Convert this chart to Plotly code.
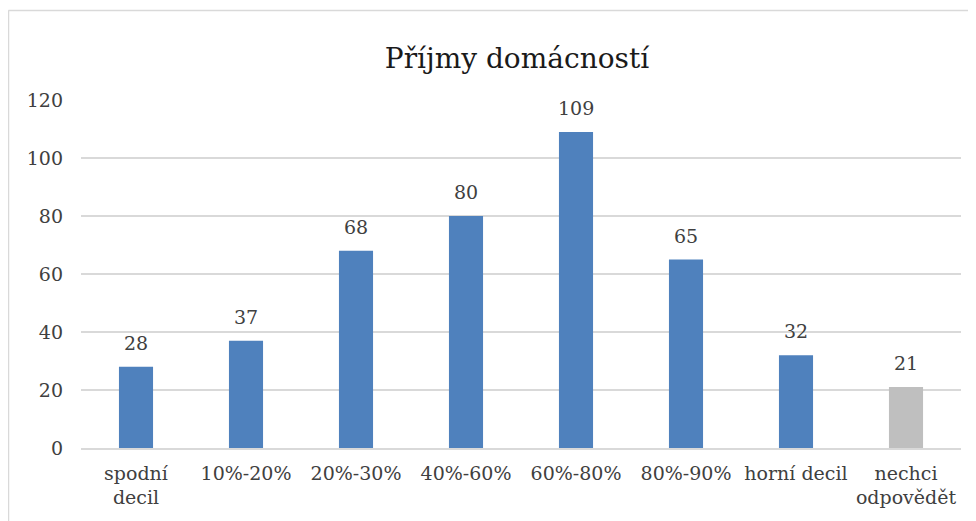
import plotly.graph_objects as go

categories = ["spodní<br>decil", "10%-20%", "20%-30%", "40%-60%", "60%-80%", "80%-90%", "horní decil", "nechci<br>odpovědět"]
values = [28, 37, 68, 80, 109, 65, 32, 21]
colors = ["#4F81BD"] * 7 + ["#BFBFBF"]
yticks = [0, 20, 40, 60, 80, 100, 120]

FONT = "DejaVu Serif"
TXT = "#404040"

fig = go.Figure(go.Bar(
    x=categories, y=values,
    marker=dict(color=colors, line=dict(width=0)),
    cliponaxis=False,
))

for c, v in zip(categories, values):
    fig.add_annotation(x=c, y=v, text=str(v), showarrow=False, yanchor="bottom",
                       yshift=11, font=dict(family=FONT, size=19, color=TXT))

fig.update_layout(
    width=976, height=521,
    margin=dict(l=73, r=23, t=92, b=81),
    paper_bgcolor="white", plot_bgcolor="white",
    bargap=0.69,
    showlegend=False,
    title=dict(text="Příjmy domácností", x=0.5215, xanchor="center", y=0.904, yanchor="middle",
               font=dict(family=FONT, size=28, color="#1a1a1a")),
    font=dict(family=FONT, size=19, color=TXT),
    xaxis=dict(showgrid=False, showline=True, linecolor="#D9D9D9", linewidth=1.5,
               ticks="", ticklabelstandoff=7,
               tickfont=dict(family=FONT, size=19, color=TXT), fixedrange=True),
    yaxis=dict(range=[0, 120], tickvals=yticks, showgrid=True, gridcolor="#D9D9D9", gridwidth=1.5,
               zeroline=False, showline=False, ticks="", ticklabelstandoff=17,
               tickfont=dict(family=FONT, size=19, color=TXT)),
    shapes=[
        dict(type="line", xref="paper", yref="paper", x0=-0.0824, x1=-0.0824, y0=1.258, y1=-0.3,
             line=dict(color="#D9D9D9", width=1.5)),
        dict(type="line", xref="paper", yref="paper", x0=-0.0824, x1=1.1, y0=1.257, y1=1.257,
             line=dict(color="#D9D9D9", width=1.5)),
    ],
)

fig.write_html("out.html")
